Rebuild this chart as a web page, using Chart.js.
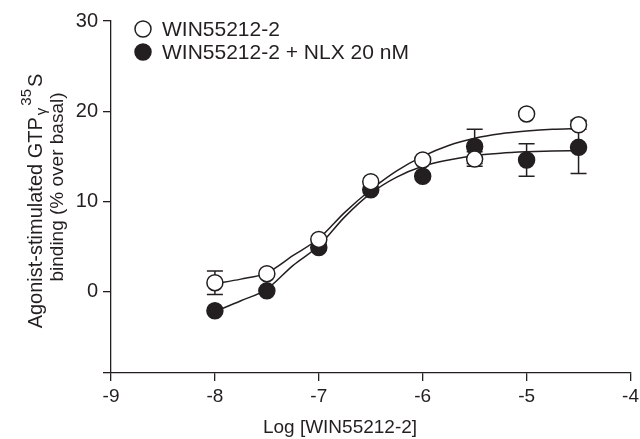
<!DOCTYPE html>
<html>
<head>
<meta charset="utf-8">
<script src="https://cdn.jsdelivr.net/npm/chart.js@4"></script>
<style>
  html, body { margin: 0; padding: 0; background: #fff; }
  canvas { display: block; }
</style>
</head>
<body>
<canvas id="doseChart" width="640" height="439"></canvas>
<script>
// log concentrations of the measured points
var doses = [-8, -7.5, -7, -6.5, -6, -5.5, -5, -4.5];
var winMean = [1.0, 2.0, 5.8, 12.2, 14.6, 14.7, 19.7, 18.5];
var winErr = [1.3, 0, 0, 0, 0, 0.8, 0, 0.5];
var nlxMean = [-2.1, 0.1, 4.9, 11.3, 12.8, 16.1, 14.6, 16.0];
var nlxErr = [0, 0, 0, 0, 0, 1.9, 1.8, 2.9];

// fitted curves
var fitX = [-8, -7.75, -7.5, -7.25, -7, -6.75, -6.5, -6.25, -6, -5.75, -5.5, -5.25, -5, -4.75, -4.5];
var winFit = [0.9, 1.4, 2.1, 4.0, 5.9, 8.8, 11.3, 13.4, 15.0, 16.2, 17.0, 17.5, 17.8, 18.0, 18.1];
var nlxFit = [-2.2, -1.0, 0.3, 2.9, 5.1, 8.3, 10.9, 12.7, 13.9, 14.6, 15.1, 15.35, 15.5, 15.6, 15.65];

var xTicks = [-9, -8, -7, -6, -5, -4];
var yTicks = [0, 10, 20, 30];
var legendLabels = ['WIN55212-2', 'WIN55212-2 + NLX 20 nM'];
var xTitle = 'Log [WIN55212-2]';

var ink = '#231f20';
var fontFam = '"Liberation Sans", Arial, sans-serif';

function pts(xs, ys) {
    return xs.map(function (x, i) { return {x: x, y: ys[i]}; });
}

// error bars under the markers
var errorBars = {
    id: 'errorBars',
    beforeDatasetsDraw: function (chart) {
        var ctx = chart.ctx, xs = chart.scales.x, ys = chart.scales.y;
        var sets = [[winMean, winErr], [nlxMean, nlxErr]];
        ctx.save();
        ctx.strokeStyle = ink;
        ctx.lineWidth = 1.5;
        sets.forEach(function (s) {
            doses.forEach(function (d, i) {
                var e = s[1][i];
                if (!e) return;
                var px = xs.getPixelForValue(d);
                var top = ys.getPixelForValue(s[0][i] + e);
                var bot = ys.getPixelForValue(s[0][i] - e);
                ctx.beginPath();
                ctx.moveTo(px, top); ctx.lineTo(px, bot);
                ctx.moveTo(px - 8, top); ctx.lineTo(px + 8, top);
                ctx.moveTo(px - 8, bot); ctx.lineTo(px + 8, bot);
                ctx.stroke();
            });
        });
        ctx.restore();
    }
};

// legend, axis titles (y title has sub/superscript)
var extras = {
    id: 'extras',
    afterDraw: function (chart) {
        var ctx = chart.ctx;
        ctx.save();
        var ly = [29, 52];
        legendLabels.forEach(function (lab, i) {
            ctx.beginPath();
            ctx.arc(143, ly[i], 8, 0, Math.PI * 2);
            ctx.fillStyle = i === 0 ? '#fff' : ink;
            ctx.fill();
            ctx.lineWidth = 1.5;
            ctx.strokeStyle = ink;
            ctx.stroke();
            ctx.fillStyle = ink;
            ctx.font = '21px ' + fontFam;
            ctx.textBaseline = 'middle';
            ctx.textAlign = 'left';
            ctx.fillText(lab, 162, ly[i] + 1);
        });

        ctx.font = '19px ' + fontFam;
        ctx.textAlign = 'center';
        ctx.fillText(xTitle, 340, 428);

        var big = '20px ' + fontFam, small = '15px ' + fontFam;
        var parts = [
            {t: 'Agonist-stimulated GTP', f: big, dy: 0},
            {t: '\u03b3', f: small, dy: 4},
            {t: '35', f: small, dy: -11},
            {t: 'S', f: big, dy: 0}
        ];
        ctx.textBaseline = 'alphabetic';
        ctx.textAlign = 'left';
        var w = 0;
        parts.forEach(function (p) { ctx.font = p.f; p.w = ctx.measureText(p.t).width + 2; w += p.w; });
        ctx.translate(42, 200);
        ctx.rotate(-Math.PI / 2);
        var u = -w / 2;
        parts.forEach(function (p) {
            ctx.font = p.f;
            ctx.fillText(p.t, u, p.dy);
            u += p.w;
        });
        ctx.font = '19px ' + fontFam;
        ctx.textAlign = 'center';
        ctx.fillText('binding (% over basal)', 13, 21);
        ctx.restore();
    }
};

var tickFont = {family: fontFam, size: 19};

new Chart(document.getElementById('doseChart'), {
    type: 'scatter',
    data: {
        datasets: [
            {
                label: legendLabels[0],
                data: pts(doses, winMean),
                pointRadius: 8,
                pointBackgroundColor: '#fff',
                pointBorderColor: ink,
                pointBorderWidth: 1.5,
                showLine: false
            },
            {
                label: legendLabels[1],
                data: pts(doses, nlxMean),
                pointRadius: 8,
                pointBackgroundColor: ink,
                pointBorderColor: ink,
                pointBorderWidth: 1.5,
                showLine: false
            },
            {
                data: pts(fitX, winFit),
                showLine: true,
                pointRadius: 0,
                borderColor: ink,
                borderWidth: 1.5,
                cubicInterpolationMode: 'monotone'
            },
            {
                data: pts(fitX, nlxFit),
                showLine: true,
                pointRadius: 0,
                borderColor: ink,
                borderWidth: 1.5,
                cubicInterpolationMode: 'monotone'
            }
        ]
    },
    options: {
        responsive: false,
        animation: false,
        devicePixelRatio: 1,
        layout: {padding: {left: 0, right: 9, top: 21, bottom: 0}},
        plugins: {legend: {display: false}, tooltip: {enabled: false}},
        scales: {
            x: {
                type: 'linear',
                min: -9,
                max: -4,
                afterBuildTicks: function (s) { s.ticks = xTicks.map(function (v) { return {value: v}; }); },
                afterFit: function (s) {
                    s.height = 66;
                    s.paddingLeft = s.paddingRight = 0;
                },
                grid: {drawOnChartArea: false, drawTicks: true, tickLength: 8, color: ink, lineWidth: 1.3},
                border: {display: true, color: ink, width: 1.3},
                ticks: {font: tickFont, color: ink, padding: 4, maxRotation: 0}
            },
            y: {
                type: 'linear',
                min: -9,
                max: 30,
                afterBuildTicks: function (s) { s.ticks = [-9].concat(yTicks).map(function (v) { return {value: v}; }); },
                afterFit: function (s) {
                    s.width = 111;
                    s.paddingTop = s.paddingBottom = 0;
                },
                grid: {drawOnChartArea: false, drawTicks: true, tickLength: 8, color: ink, lineWidth: 1.3},
                border: {display: true, color: ink, width: 1.3},
                ticks: {
                    font: {family: fontFam, size: 20}, color: ink, padding: 5,
                    callback: function (v) { return yTicks.indexOf(v) >= 0 ? String(v) : ''; }
                }
            }
        }
    },
    plugins: [errorBars, extras]
});
</script>
</body>
</html>
